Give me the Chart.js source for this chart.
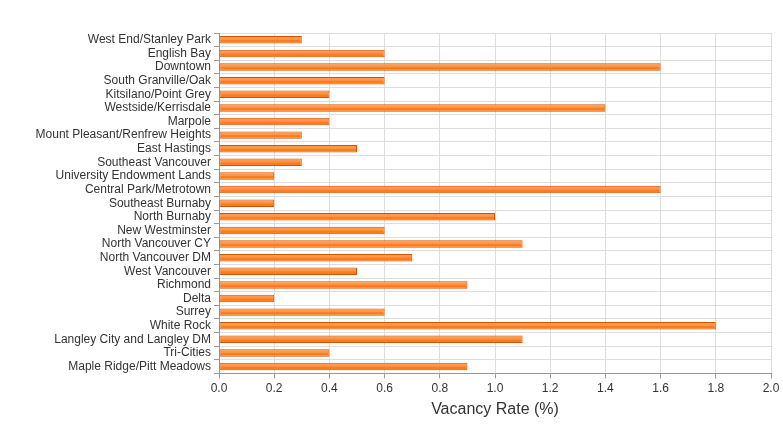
<!DOCTYPE html>
<html>
<head>
<meta charset="utf-8">
<script src="https://cdn.jsdelivr.net/npm/chart.js@4/dist/chart.umd.min.js"></script>
<style>
    html, body { margin: 0; padding: 0; background: #fff; }
    #wrap { width: 783px; height: 427px; }
</style>
</head>
<body>
<div id="wrap"><canvas id="vacancyChart"></canvas></div>
<script>
// Vacancy rate by area
const areas = [
    'West End/Stanley Park', 'English Bay', 'Downtown', 'South Granville/Oak',
    'Kitsilano/Point Grey', 'Westside/Kerrisdale', 'Marpole',
    'Mount Pleasant/Renfrew Heights', 'East Hastings', 'Southeast Vancouver',
    'University Endowment Lands', 'Central Park/Metrotown', 'Southeast Burnaby',
    'North Burnaby', 'New Westminster', 'North Vancouver CY', 'North Vancouver DM',
    'West Vancouver', 'Richmond', 'Delta', 'Surrey', 'White Rock',
    'Langley City and Langley DM', 'Tri-Cities', 'Maple Ridge/Pitt Meadows'
];
const vacancyRates = [
    0.3, 0.6, 1.6, 0.6, 0.4, 1.4, 0.4, 0.3, 0.5, 0.3, 0.2, 1.6, 0.2,
    1.0, 0.6, 1.1, 0.7, 0.5, 0.9, 0.2, 0.6, 1.8, 1.1, 0.4, 0.9
];
const xMin = 0;
const xMax = 2.0;
const xStep = 0.2;

Chart.defaults.font.family = '"Liberation Sans", Arial, sans-serif';
Chart.defaults.color = '#333';

// light sheen on the upper half of each bar, like the original
const barSheen = {
    id: 'barSheen',
    afterDatasetsDraw(chart) {
        const c = chart.ctx;
        chart.getDatasetMeta(0).data.forEach(function (bar) {
            const h = bar.height;
            const top = bar.y - h / 2;
            c.save();
            c.fillStyle = 'rgba(255,255,255,0.22)';
            c.fillRect(bar.base + 1, top + 1, bar.x - bar.base - 2, h / 2 - 1);
            c.restore();
        });
    }
};

const ctx = document.getElementById('vacancyChart').getContext('2d');

const vacancyChart = new Chart(ctx, {
    type: 'bar',
    data: {
        labels: areas,
        datasets: [{
            label: 'Vacancy Rate (%)',
            data: vacancyRates,
            backgroundColor: '#ff7c1c',
            borderColor: '#d45300',
            borderWidth: 1,
            borderSkipped: false,
            categoryPercentage: 0.55,
            barPercentage: 1.0
        }]
    },
    options: {
        indexAxis: 'y',
        responsive: true,
        maintainAspectRatio: false,
        animation: false,
        layout: { padding: { top: 33, right: 12, left: 0, bottom: 8 } },
        plugins: {
            legend: { display: false },
            tooltip: { enabled: false }
        },
        scales: {
            x: {
                min: xMin,
                max: xMax,
                ticks: {
                    stepSize: xStep,
                    font: { size: 12 },
                    padding: 3,
                    callback: (v) => Number(v).toFixed(1)
                },
                grid: { color: '#dddddd', tickLength: 5, tickColor: '#999' },
                border: { color: '#999' },
                title: {
                    display: true,
                    text: 'Vacancy Rate (%)',
                    font: { size: 16 },
                    padding: { top: 1, bottom: 0 }
                }
            },
            y: {
                afterFit: (scale) => { scale.width = 219; },
                ticks: { font: { size: 12 }, padding: 3, autoSkip: false },
                grid: { color: '#dddddd', tickLength: 5, tickColor: '#999' },
                border: { color: '#999' }
            }
        }
    },
    plugins: [barSheen]
});
</script>
</body>
</html>
